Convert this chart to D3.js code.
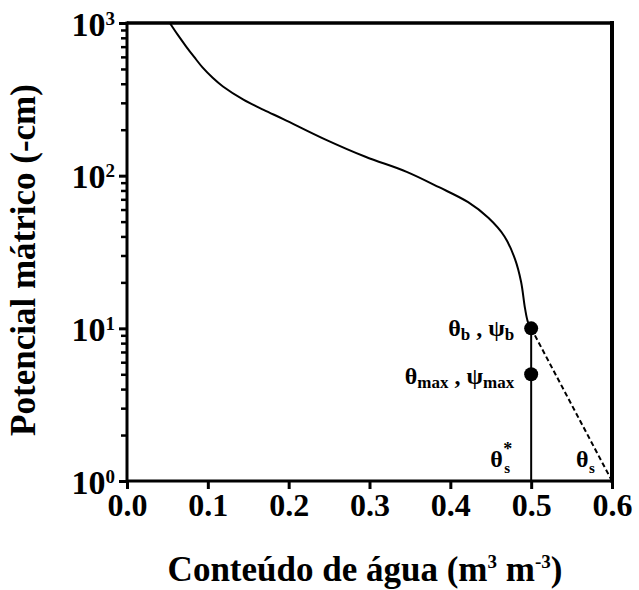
<!DOCTYPE html>
<html>
<head>
<meta charset="utf-8">
<script src="https://cdn.jsdelivr.net/npm/d3@7"></script>
<style>
  html, body { margin: 0; padding: 0; background: #fff; }
  svg { display: block; }
  text { font-family: "Liberation Serif", "Times New Roman", serif; font-weight: bold; fill: #000; }
</style>
</head>
<body>
<svg id="chart" width="639" height="590"></svg>
<script>
// Retention curve: water content (m3 m-3) against matric potential (-cm)
const curveTheta = [0.053, 0.0631, 0.0732, 0.0833, 0.0934, 0.106, 0.1187, 0.144, 0.169, 0.194, 0.245, 0.295, 0.346, 0.386, 0.422, 0.447, 0.467, 0.480, 0.4875, 0.4924, 0.4960, 0.5];
const curvePsi   = [1000, 832, 701, 597, 512, 438, 384, 315, 270, 234, 173, 133, 106, 84, 67, 53, 40, 28.4, 20.2, 13.5, 11, 10];

// Vertical branch below the bubbling point
const satTheta = [0.5, 0.5];
const satPsi   = [10, 1];

// Marked points (θb, ψb) and (θmax, ψmax)
const pointTheta = [0.5, 0.5];
const pointPsi   = [10, 5];

// Dashed extrapolation to θs
const dashTheta = [0.5, 0.6];
const dashPsi   = [10, 1];

const xTicks = [0.0, 0.1, 0.2, 0.3, 0.4, 0.5, 0.6];
const yTicks = [1, 10, 100, 1000];
const yExponents = ["0", "1", "2", "3"];

const svg = d3.select("#chart");
const plotL = 127, plotR = 612, plotT = 23, plotB = 481;

const x = d3.scaleLinear().domain([0, 0.6]).range([plotL, plotR]);
const y = d3.scaleLog().domain([1, 1000]).range([plotB, plotT]);

// Minor ticks on the log axis
const yMinor = [];
for (let e = 0; e < 3; e++) for (let k = 2; k <= 9; k++) yMinor.push(k * Math.pow(10, e));

const minorAxis = svg.append("g")
  .attr("transform", `translate(${plotL},0)`)
  .call(d3.axisLeft(y).tickValues(yMinor).tickSize(6).tickFormat(""));
minorAxis.select(".domain").remove();
minorAxis.selectAll("line").attr("stroke", "#000").attr("stroke-width", 2.5);

const yAxis = svg.append("g")
  .attr("transform", `translate(${plotL},0)`)
  .call(d3.axisLeft(y).tickValues(yTicks).tickSize(8).tickPadding(10).tickFormat(() => ""));
yAxis.select(".domain").remove();
yAxis.selectAll("line").attr("stroke", "#000").attr("stroke-width", 3);
yAxis.selectAll(".tick text").each(function(d, i) {
  const t = d3.select(this)
    .attr("x", -12)
    .attr("dy", null)
    .attr("y", 12)
    .attr("text-anchor", "end")
    .attr("fill", "#000")
    .style("font-size", "34px")
    .style("font-family", "'Liberation Serif', serif")
    .style("font-weight", "bold");
  t.text(null);
  t.append("tspan").text("10");
  t.append("tspan").attr("dy", -11).style("font-size", "19px").text(yExponents[i]);
});

const xAxis = svg.append("g")
  .attr("transform", `translate(0,${plotB})`)
  .call(d3.axisBottom(x).tickValues(xTicks).tickSize(8).tickPadding(4).tickFormat(d3.format(".1f")));
xAxis.select(".domain").remove();
xAxis.selectAll("line").attr("stroke", "#000").attr("stroke-width", 3);
xAxis.selectAll(".tick text")
  .attr("y", 35).attr("dy", null)
  .attr("fill", "#000")
  .style("font-size", "32px")
  .style("font-family", "'Liberation Serif', serif")
  .style("font-weight", "bold");

// Frame
svg.append("line").attr("x1", plotL).attr("x2", plotL).attr("y1", plotT - 1.5).attr("y2", plotB + 1.5)
  .attr("stroke", "#000").attr("stroke-width", 3);
svg.append("line").attr("x1", plotL).attr("x2", plotR).attr("y1", plotB).attr("y2", plotB)
  .attr("stroke", "#000").attr("stroke-width", 3);
svg.append("line").attr("x1", plotL).attr("x2", plotR).attr("y1", plotT).attr("y2", plotT)
  .attr("stroke", "#000").attr("stroke-width", 3.5);
svg.append("line").attr("x1", plotR).attr("x2", plotR).attr("y1", plotT - 2).attr("y2", plotB + 1.5)
  .attr("stroke", "#000").attr("stroke-width", 4);

// Retention curve
const line = d3.line().x(d => x(d[0])).y(d => y(d[1])).curve(d3.curveCatmullRom);
svg.append("path")
  .datum(curveTheta.map((t, i) => [t, curvePsi[i]]))
  .attr("d", line)
  .attr("fill", "none").attr("stroke", "#000").attr("stroke-width", 2);

svg.append("path")
  .datum(satTheta.map((t, i) => [t, satPsi[i]]))
  .attr("d", d3.line().x(d => x(d[0])).y(d => y(d[1])))
  .attr("fill", "none").attr("stroke", "#000").attr("stroke-width", 2);

svg.append("path")
  .datum(dashTheta.map((t, i) => [t, dashPsi[i]]))
  .attr("d", d3.line().x(d => x(d[0])).y(d => y(d[1])))
  .attr("fill", "none").attr("stroke", "#000").attr("stroke-width", 2)
  .attr("stroke-dasharray", "5,3");

svg.selectAll("circle.pt")
  .data(pointTheta.map((t, i) => [t, pointPsi[i]]))
  .join("circle")
  .attr("class", "pt")
  .attr("cx", d => x(d[0])).attr("cy", d => y(d[1]))
  .attr("r", 7).attr("fill", "#000");

// Point annotations
function annot(px, py, parts) {
  const t = svg.append("text").attr("x", px).attr("y", py).attr("text-anchor", "end")
    .style("font-size", "24px");
  parts.forEach(p => {
    const s = t.append("tspan").text(p.t);
    if (p.sub) s.style("font-size", "17px").attr("dy", p.dy);
    else if (p.dy) s.attr("dy", p.dy);
  });
  return t;
}
annot(x(0.5) - 17, y(10) + 8, [
  { t: "θ" }, { t: "b", sub: true, dy: 4 }, { t: "\u00a0, ψ", dy: -4 }, { t: "b", sub: true, dy: 4 }
]);
annot(x(0.5) - 17, y(5) + 10, [
  { t: "θ" }, { t: "max", sub: true, dy: 4 }, { t: "\u00a0, ψ", dy: -4 }, { t: "max", sub: true, dy: 4 }
]);

// θ*s near the vertical branch
svg.append("text").attr("x", x(0.5) - 41).attr("y", y(1) - 14).style("font-size", "24px").text("θ");
svg.append("text").attr("x", x(0.5) - 28).attr("y", y(1) - 26).style("font-size", "18px").text("*");
svg.append("text").attr("x", x(0.5) - 27).attr("y", y(1) - 8).style("font-size", "15px").text("s");

// θs near the dashed line end
svg.append("text").attr("x", x(0.6) - 36).attr("y", y(1) - 14).style("font-size", "24px").text("θ");
svg.append("text").attr("x", x(0.6) - 23).attr("y", y(1) - 8).style("font-size", "15px").text("s");

// Axis titles
svg.append("text")
  .attr("x", 365).attr("y", 581)
  .attr("text-anchor", "middle")
  .style("font-size", "35px")
  .call(t => {
    t.append("tspan").text("Conteúdo de água (m");
    t.append("tspan").attr("dy", -13).style("font-size", "19px").text("3");
    t.append("tspan").attr("dy", 13).text(" m");
    t.append("tspan").attr("dy", -13).style("font-size", "19px").text("-3");
    t.append("tspan").attr("dy", 13).text(")");
  });

svg.append("text")
  .attr("transform", `translate(35,${(plotT + plotB) / 2 + 8}) rotate(-90)`)
  .attr("text-anchor", "middle")
  .style("font-size", "35px")
  .text("Potencial mátrico (-cm)");
</script>
</body>
</html>
